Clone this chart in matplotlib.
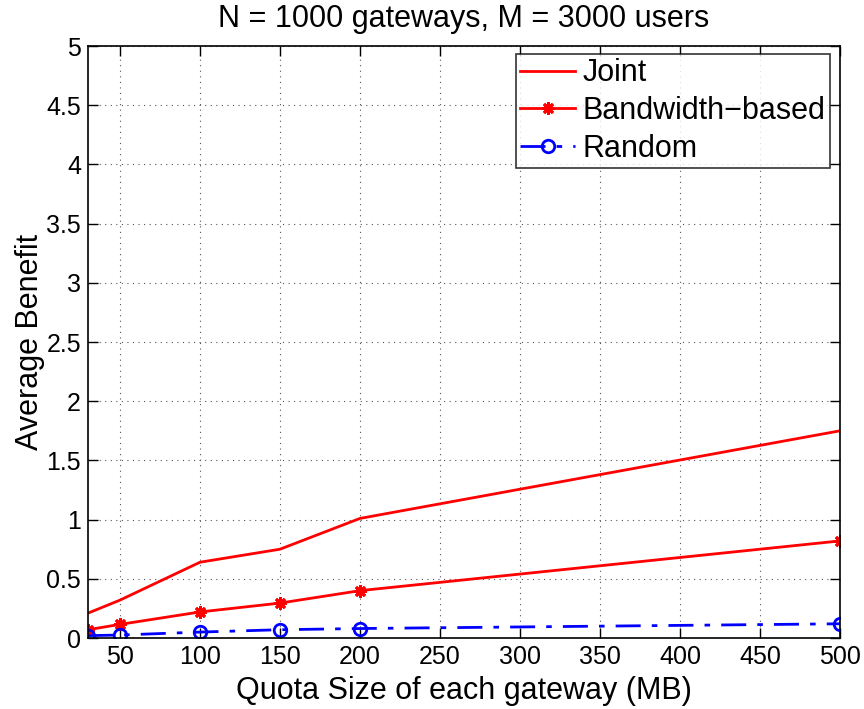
import matplotlib
matplotlib.use("Agg")
import matplotlib.pyplot as plt

plt.rcParams['font.family'] = ['Liberation Sans', 'DejaVu Sans']

quota = [30, 50, 100, 150, 200, 500]
joint = [0.21, 0.32, 0.64, 0.75, 1.01, 1.75]
bandwidth = [0.07, 0.115, 0.22, 0.295, 0.40, 0.82]
random_sel = [0.02, 0.025, 0.05, 0.07, 0.08, 0.12]

xticks = [50, 100, 150, 200, 250, 300, 350, 400, 450, 500]
yticks = [0, 0.5, 1, 1.5, 2, 2.5, 3, 3.5, 4, 4.5, 5]
yticklabels = ['0', '0.5', '1', '1.5', '2', '2.5', '3', '3.5', '4', '4.5', '5']

fig = plt.figure(figsize=(8.64, 7.09), dpi=100)
ax = fig.add_axes([88 / 864, 1 - 638 / 709, (840 - 88) / 864, (638 - 46) / 709])

ax.plot(quota, joint, color='red', lw=2, label='Joint')
ax.plot(quota, bandwidth, color='red', lw=2, marker=(8, 2, 0), ms=9,
        markeredgewidth=2, label='Bandwidth\u2212based')
ax.plot(quota, random_sel, color='blue', lw=2, ls='-.', dashes=(9, 4, 2, 4),
        marker='o', ms=9, markerfacecolor='none', markeredgewidth=2,
        label='Random')

ax.set_xlim(30, 500)
ax.set_ylim(0, 5)
ax.set_xticks(xticks)
ax.set_yticks(yticks)
ax.set_yticklabels(yticklabels)
ax.tick_params(direction='in', length=7, width=1, top=True, right=True,
               labelsize=18, pad=5)
ax.grid(True, ls=(0, (1, 4)), color='#555555', lw=0.8)
for s in ax.spines.values():
    s.set_linewidth(1.2)

ax.set_xlabel('Quota Size of each gateway (MB)', fontsize=22, labelpad=5)
ax.set_ylabel('Average Benefit', fontsize=22, labelpad=1)
ax.set_title('N = 1000 gateways, M = 3000 users', fontsize=22, pad=14)

leg = ax.legend(loc='upper right', fontsize=22, frameon=True, fancybox=False,
                edgecolor='black', handlelength=1.8, borderpad=0.15,
                labelspacing=0.25, handletextpad=0.25, borderaxespad=0,
                bbox_to_anchor=(0.987, 0.987))
leg.get_frame().set_linewidth(1.2)

fig.savefig('out.png', dpi=100)
